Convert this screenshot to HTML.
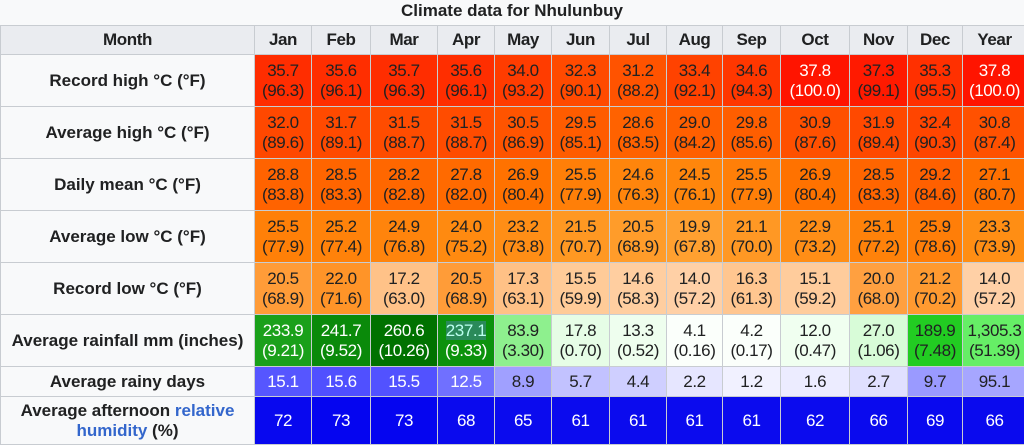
<!DOCTYPE html>
<html><head><meta charset="utf-8"><style>
body{margin:0;background:#f8f9fa;width:1024px;height:443px;overflow:hidden;font-family:"Liberation Sans",sans-serif;}
.t{position:absolute;top:0;left:0;width:1024px;text-align:center;font-weight:bold;font-size:17px;line-height:22px;color:#202122;}
table{position:absolute;top:25px;left:0;border-collapse:collapse;table-layout:fixed;width:1026px;}
td,th{border:1px solid #c8ccd1;padding:0;text-align:center;font-size:17px;line-height:20px;color:#202122;letter-spacing:-0.4px;}
th{background:#eaecf0;font-weight:bold;}
th.r{background:#f8f9fa;letter-spacing:0;}
tr.h th{height:28px;}
tr.b td,tr.b th{height:51px;}
tr.d td,tr.d th{height:29px;}
tr.u td,tr.u th{height:47px;}
.w{color:#fff}
a{color:#3366cc;text-decoration:none}
</style></head><body>
<div class="t">Climate data for Nhulunbuy</div>
<table>
<colgroup><col style="width:254px"><col style="width:57px"><col style="width:59px"><col style="width:67px"><col style="width:57px"><col style="width:57px"><col style="width:58px"><col style="width:57px"><col style="width:56px"><col style="width:58px"><col style="width:69px"><col style="width:58px"><col style="width:55px"><col style="width:64px"></colgroup>
<tr class="h"><th>Month</th><th>Jan</th><th>Feb</th><th>Mar</th><th>Apr</th><th>May</th><th>Jun</th><th>Jul</th><th>Aug</th><th>Sep</th><th>Oct</th><th>Nov</th><th>Dec</th><th>Year</th></tr>
<tr class="b"><th class="r">Record high °C (°F)</th>
<td style="background:#ff2d00">35.7<br>(96.3)</td><td style="background:#ff2e00">35.6<br>(96.1)</td><td style="background:#ff2d00">35.7<br>(96.3)</td><td style="background:#ff2e00">35.6<br>(96.1)</td><td style="background:#ff3c00">34.0<br>(93.2)</td><td style="background:#ff4a00">32.3<br>(90.1)</td><td style="background:#ff5300">31.2<br>(88.2)</td><td style="background:#ff4200">33.4<br>(92.1)</td><td style="background:#ff3700">34.6<br>(94.3)</td><td class="w" style="background:#ff1400">37.8<br>(100.0)</td><td style="background:#ff1a00">37.3<br>(99.1)</td><td style="background:#ff3000">35.3<br>(95.5)</td><td class="w" style="background:#ff1400">37.8<br>(100.0)</td></tr>
<tr class="b"><th class="r">Average high °C (°F)</th>
<td style="background:#ff4800">32.0<br>(89.6)</td><td style="background:#ff4a00">31.7<br>(89.1)</td><td style="background:#ff4c00">31.5<br>(88.7)</td><td style="background:#ff4c00">31.5<br>(88.7)</td><td style="background:#ff5400">30.5<br>(86.9)</td><td style="background:#ff5c00">29.5<br>(85.1)</td><td style="background:#ff6200">28.6<br>(83.5)</td><td style="background:#ff5f00">29.0<br>(84.2)</td><td style="background:#ff5e00">29.8<br>(85.6)</td><td style="background:#ff5000">30.9<br>(87.6)</td><td style="background:#ff4900">31.9<br>(89.4)</td><td style="background:#ff4500">32.4<br>(90.3)</td><td style="background:#ff5100">30.8<br>(87.4)</td></tr>
<tr class="b"><th class="r">Daily mean °C (°F)</th>
<td style="background:#ff6300">28.8<br>(83.8)</td><td style="background:#ff6500">28.5<br>(83.3)</td><td style="background:#ff6700">28.2<br>(82.8)</td><td style="background:#ff6a00">27.8<br>(82.0)</td><td style="background:#ff7200">26.9<br>(80.4)</td><td style="background:#ff7f08">25.5<br>(77.9)</td><td style="background:#ff850c">24.6<br>(76.3)</td><td style="background:#ff860c">24.5<br>(76.1)</td><td style="background:#ff7f08">25.5<br>(77.9)</td><td style="background:#ff7200">26.9<br>(80.4)</td><td style="background:#ff6500">28.5<br>(83.3)</td><td style="background:#ff6000">29.2<br>(84.6)</td><td style="background:#ff7000">27.1<br>(80.7)</td></tr>
<tr class="b"><th class="r">Average low °C (°F)</th>
<td style="background:#ff8008">25.5<br>(77.9)</td><td style="background:#ff820a">25.2<br>(77.4)</td><td style="background:#ff840c">24.9<br>(76.8)</td><td style="background:#ff8a10">24.0<br>(75.2)</td><td style="background:#ff8e16">23.2<br>(73.8)</td><td style="background:#ff9822">21.5<br>(70.7)</td><td style="background:#ff9c2a">20.5<br>(68.9)</td><td style="background:#ffa030">19.9<br>(67.8)</td><td style="background:#ff9824">21.1<br>(70.0)</td><td style="background:#ff8e16">22.9<br>(73.2)</td><td style="background:#ff820a">25.1<br>(77.2)</td><td style="background:#ff7e08">25.9<br>(78.6)</td><td style="background:#ff8e14">23.3<br>(73.9)</td></tr>
<tr class="b"><th class="r">Record low °C (°F)</th>
<td style="background:#ff9c38">20.5<br>(68.9)</td><td style="background:#ff9428">22.0<br>(71.6)</td><td style="background:#ffc288">17.2<br>(63.0)</td><td style="background:#ff9c38">20.5<br>(68.9)</td><td style="background:#ffc186">17.3<br>(63.1)</td><td style="background:#ffcb98">15.5<br>(59.9)</td><td style="background:#ffcea0">14.6<br>(58.3)</td><td style="background:#ffd0a6">14.0<br>(57.2)</td><td style="background:#ffc690">16.3<br>(61.3)</td><td style="background:#ffcc9c">15.1<br>(59.2)</td><td style="background:#ffa040">20.0<br>(68.0)</td><td style="background:#ff9a30">21.2<br>(70.2)</td><td style="background:#ffd0a6">14.0<br>(57.2)</td></tr>
<tr class="b"><th class="r">Average rainfall mm (inches)</th>
<td class="w" style="background:#1aa01a">233.9<br>(9.21)</td><td class="w" style="background:#0a8a0a">241.7<br>(9.52)</td><td class="w" style="background:#007200">260.6<br>(10.26)</td><td style="background:#0c920c;color:#fff"><span style="background:#2a8a5a;color:#bfe">237.1</span><br>(9.33)</td><td style="background:#8ef08e">83.9<br>(3.30)</td><td style="background:#e6fde6">17.8<br>(0.70)</td><td style="background:#eefeee">13.3<br>(0.52)</td><td style="background:#fbfffb">4.1<br>(0.16)</td><td style="background:#fbfffb">4.2<br>(0.17)</td><td style="background:#f0fff0">12.0<br>(0.47)</td><td style="background:#d8fcd8">27.0<br>(1.06)</td><td style="background:#22cc22">189.9<br>(7.48)</td><td style="background:#66ee66">1,305.3<br>(51.39)</td></tr>
<tr class="d"><th class="r">Average rainy days</th>
<td class="w" style="background:#5656ff">15.1</td><td class="w" style="background:#5050ff">15.6</td><td class="w" style="background:#5252ff">15.5</td><td class="w" style="background:#7070ff">12.5</td><td style="background:#a0a0ff">8.9</td><td style="background:#c2c2ff">5.7</td><td style="background:#cfcfff">4.4</td><td style="background:#e6e6ff">2.2</td><td style="background:#f1f1ff">1.2</td><td style="background:#ececff">1.6</td><td style="background:#e0e0ff">2.7</td><td style="background:#9a9aff">9.7</td><td style="background:#a6a6ff">95.1</td></tr>
<tr class="u"><th class="r">Average afternoon <a>relative<br>humidity</a> (%)</th>
<td class="w" style="background:#0808ef">72</td><td class="w" style="background:#0505f0">73</td><td class="w" style="background:#0505f0">73</td><td class="w" style="background:#0a0aee">68</td><td class="w" style="background:#0b0bee">65</td><td class="w" style="background:#0b0bee">61</td><td class="w" style="background:#0b0bee">61</td><td class="w" style="background:#0b0bee">61</td><td class="w" style="background:#0b0bee">61</td><td class="w" style="background:#0b0bee">62</td><td class="w" style="background:#0a0aee">66</td><td class="w" style="background:#0909ef">69</td><td class="w" style="background:#0a0aee">66</td></tr>
</table>
</body></html>
